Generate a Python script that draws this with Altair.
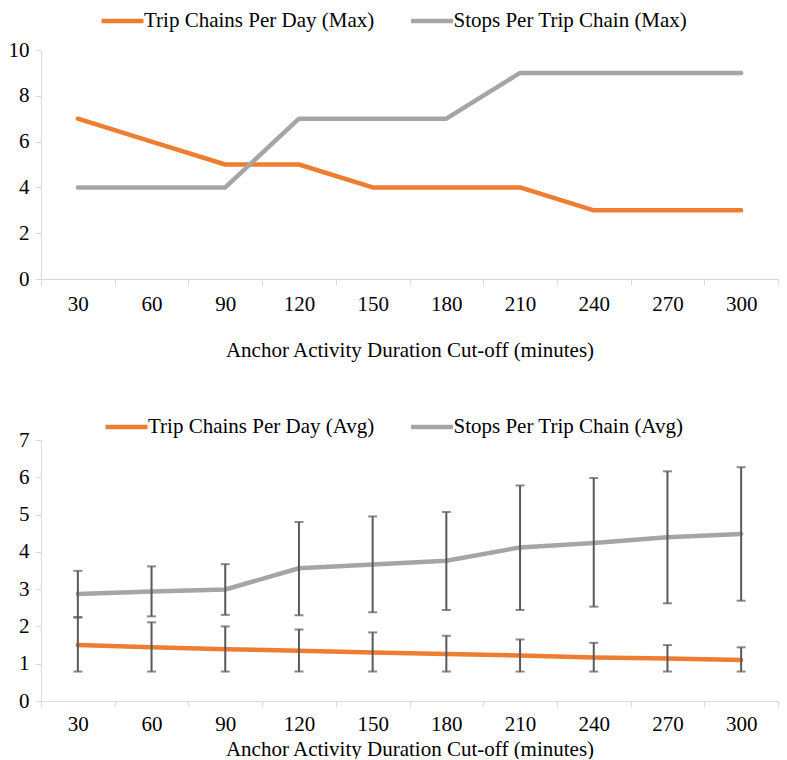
import altair as alt
import pandas as pd

# ---- data ----
cutoffs = [30, 60, 90, 120, 150, 180, 210, 240, 270, 300]

series_max = ["Trip Chains Per Day (Max)", "Stops Per Trip Chain (Max)"]
chains_max = [7, 6, 5, 5, 4, 4, 4, 3, 3, 3]
stops_max = [4, 4, 4, 7, 7, 7, 9, 9, 9, 9]

series_avg = ["Trip Chains Per Day (Avg)", "Stops Per Trip Chain (Avg)"]
chains_avg = [1.50, 1.44, 1.39, 1.35, 1.30, 1.26, 1.22, 1.17, 1.14, 1.10]
chains_lo = [0.79, 0.79, 0.79, 0.79, 0.79, 0.79, 0.79, 0.79, 0.79, 0.79]
chains_hi = [2.24, 2.11, 2.00, 1.92, 1.84, 1.75, 1.65, 1.56, 1.50, 1.44]
stops_avg = [2.87, 2.94, 2.99, 3.56, 3.66, 3.76, 4.12, 4.24, 4.39, 4.48]
stops_lo = [2.25, 2.27, 2.31, 2.30, 2.38, 2.44, 2.44, 2.53, 2.62, 2.69]
stops_hi = [3.49, 3.61, 3.67, 4.80, 4.95, 5.07, 5.78, 5.98, 6.16, 6.27]

x_title = "Anchor Activity Duration Cut-off (minutes)"
top_ticks = [0, 2, 4, 6, 8, 10]
bottom_ticks = [0, 1, 2, 3, 4, 5, 6, 7]

ORANGE = "#ED7D31"
GRAY = "#A5A5A5"
ERR = "#595959"
AXIS = "#D9D9D9"
FONT = "Liberation Serif"
FS = 21

df_max = pd.DataFrame({
    "cutoff": cutoffs * 2,
    "series": [series_max[0]] * len(cutoffs) + [series_max[1]] * len(cutoffs),
    "value": chains_max + stops_max,
})
df_avg = pd.DataFrame({
    "cutoff": cutoffs * 2,
    "series": [series_avg[0]] * len(cutoffs) + [series_avg[1]] * len(cutoffs),
    "value": chains_avg + stops_avg,
    "lo": chains_lo + stops_lo,
    "hi": chains_hi + stops_hi,
})


def x_enc(label_pad, title_pad):
    return alt.X(
        "cutoff:O",
        sort=cutoffs,
        scale=alt.Scale(type="band", paddingInner=0, paddingOuter=0),
        axis=alt.Axis(
            title=x_title, labelAngle=0, tickBand="extent", tickSize=6,
            tickColor=AXIS, domainColor=AXIS, grid=False,
            labelPadding=label_pad, titlePadding=title_pad,
            labelFont=FONT, labelFontSize=FS, labelColor="black",
            titleFont=FONT, titleFontSize=FS, titleFontWeight="normal",
            titleColor="black",
        ),
    )


def y_enc(field, domain, values):
    return alt.Y(
        field,
        scale=alt.Scale(domain=domain, nice=False),
        axis=alt.Axis(
            title=None, values=values, grid=False, tickSize=6,
            tickColor=AXIS, domainColor=AXIS, labelPadding=6,
            labelFont=FONT, labelFontSize=FS, labelColor="black",
            labelOverlap=False,
        ),
    )


def legend(lx, ly):
    # line symbol 42px long: path spans 2 units each side, scaled by sqrt(size)/2
    return alt.Legend(
        title=None, orient="none", legendX=lx + 10.5, legendY=ly,
        direction="horizontal", symbolType="M-2,0L2,0", symbolStrokeWidth=4.5,
        symbolSize=441, labelFont=FONT, labelFontSize=FS, labelColor="black",
        labelLimit=500, columnPadding=27.5, labelOffset=8.5, padding=0,
    )


top = alt.Chart(df_max).mark_line(strokeWidth=4.5, strokeCap="round", strokeJoin="round").encode(
    x=x_enc(8, 25),
    y=y_enc("value:Q", [0, 10], top_ticks),
    color=alt.Color("series:N", sort=series_max,
                    scale=alt.Scale(domain=series_max, range=[ORANGE, GRAY]),
                    legend=legend(58, -42)),
).properties(width=737, height=229)

base = alt.Chart(df_avg)
y_lo = y_enc("lo:Q", [0, 7], bottom_ticks)
lines = base.mark_line(strokeWidth=4.5, strokeCap="round", strokeJoin="round").encode(
    x=x_enc(6, 4),
    y=y_enc("value:Q", [0, 7], bottom_ticks),
    color=alt.Color("series:N", sort=series_avg,
                    scale=alt.Scale(domain=series_avg, range=[ORANGE, GRAY]),
                    legend=legend(62, -26)),
)
rules = base.mark_rule(color=ERR, strokeWidth=2).encode(
    x=x_enc(6, 4),
    y=y_lo,
    y2="hi:Q",
)
caps_lo = base.mark_tick(color=ERR, thickness=2, size=9).encode(
    x=x_enc(6, 4),
    y=y_lo,
)
caps_hi = base.mark_tick(color=ERR, thickness=2, size=9).encode(
    x=x_enc(6, 4),
    y=y_enc("hi:Q", [0, 7], bottom_ticks),
)
bottom = alt.layer(lines, rules, caps_lo, caps_hi).properties(width=737, height=261)

chart = alt.vconcat(top, bottom, spacing=54).resolve_scale(
    color="independent", x="independent", y="independent"
).resolve_legend(color="independent").properties(padding=0).configure_axis(
    domainWidth=1, tickWidth=1,
).configure_view(stroke=None)

chart.save("out.html", embed_options={"renderer": "svg", "actions": False})
